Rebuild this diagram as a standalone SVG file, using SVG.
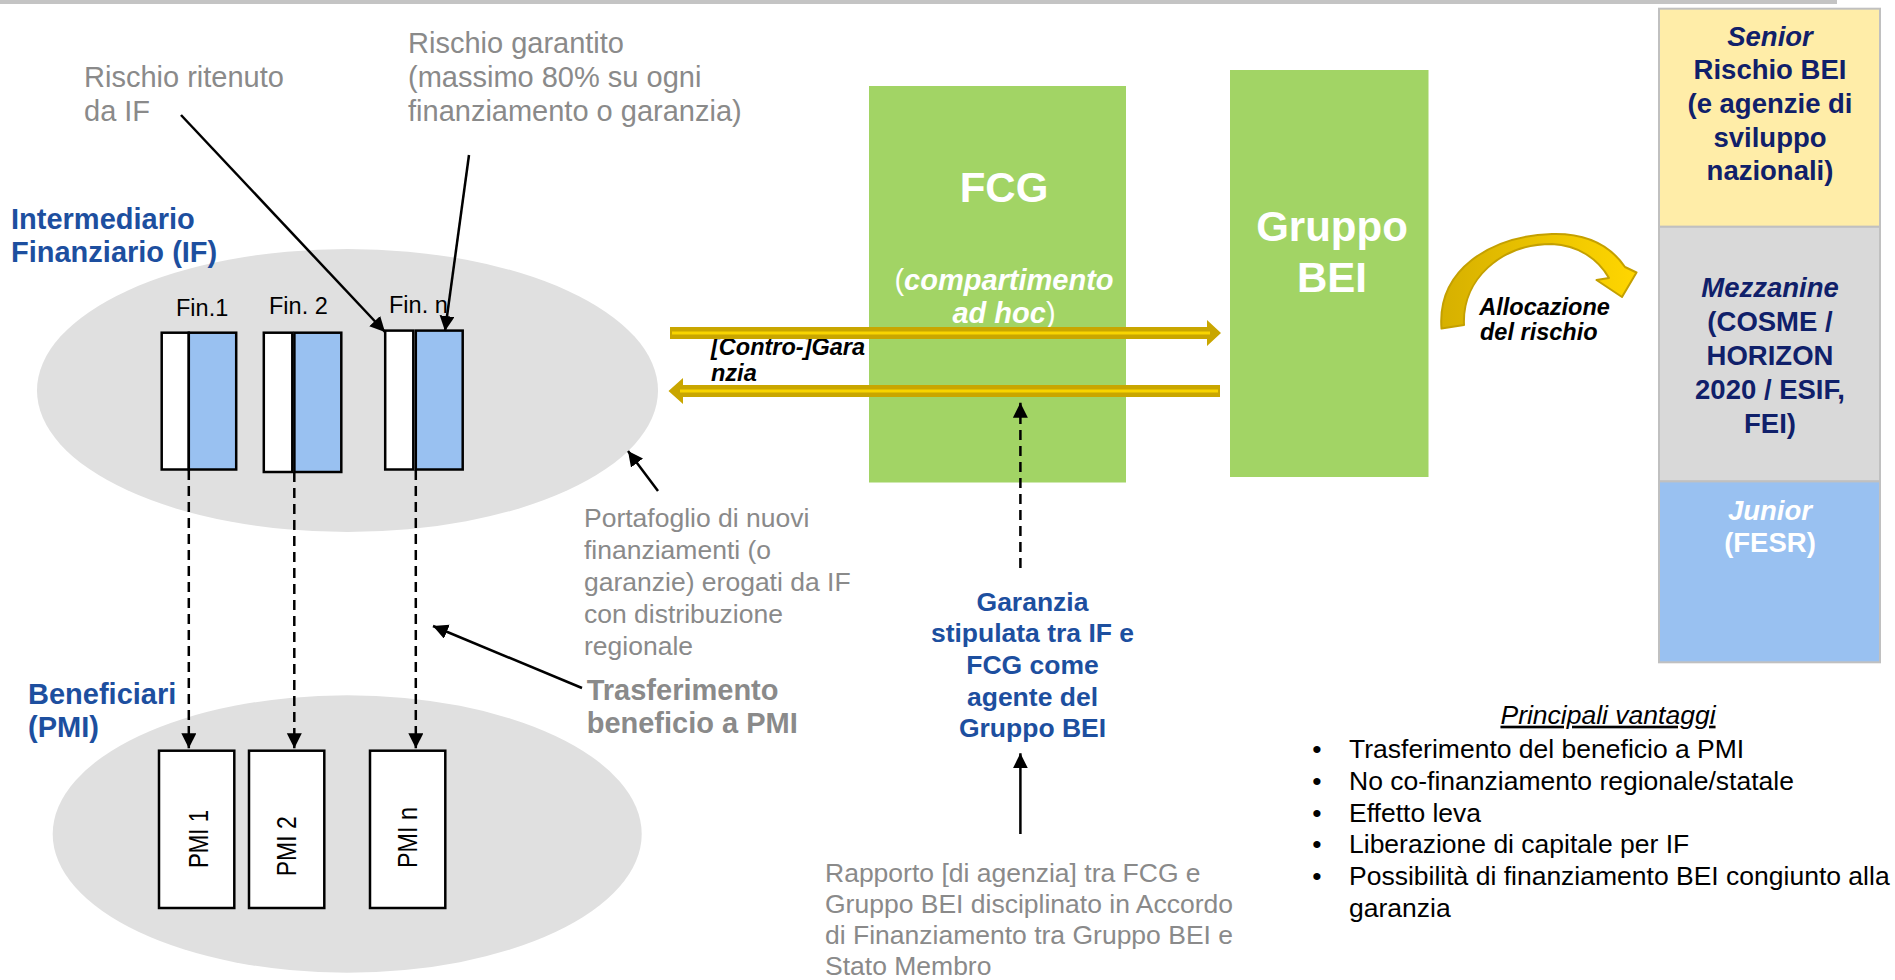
<svg xmlns="http://www.w3.org/2000/svg" width="1895" height="980" viewBox="0 0 1895 980">
<defs>
<style>
text { font-family: "Liberation Sans", Arial, sans-serif; }
.gray29 { font-size: 29px; fill: #8a8a8a; }
.gray26 { font-size: 26.5px; fill: #8a8a8a; }
.grayb { font-size: 29px; fill: #8a8a8a; font-weight: bold; }
.blue29 { font-size: 29px; fill: #1d4f9f; font-weight: bold; }
.blue26 { font-size: 26.5px; fill: #1d4f9f; font-weight: bold; text-anchor: middle; }
.fin { font-size: 23.5px; fill: #000; }
.pmi { font-size: 27px; fill: #000; font-family: "Liberation Sans Narrow", "Liberation Sans", Arial, sans-serif; text-anchor: middle; }
.wbig { font-size: 42px; fill: #fff; font-weight: bold; text-anchor: middle; }
.w29 { font-size: 29px; fill: #fff; text-anchor: middle; }
.bi { font-weight: bold; font-style: italic; }
.tr { font-size: 27.5px; font-weight: bold; fill: #10206a; text-anchor: middle; }
.trw { fill: #ffffff; }
.blk23 { font-size: 23.5px; font-weight: bold; font-style: italic; fill: #000; }
.body { font-size: 26.5px; fill: #000; }
.bul { font-size: 26.5px; fill: #000; text-anchor: middle; }
.ell { fill: #e0e0e0; }
.box { stroke: #000; stroke-width: 2.5; }
.wfill { fill: #fff; }
.bfill { fill: #99c1f1; }
.green { fill: #a2d465; }
.conn { stroke: #000; stroke-width: 2.5; fill: none; }
.dash { stroke-dasharray: 10 6; }
.gold { fill: #c9a600; }
.goldline { stroke: #f8d400; stroke-width: 3; fill: none; }
.tranche { stroke: #c0c0c0; stroke-width: 2; }
</style>
<marker id="ah" markerUnits="userSpaceOnUse" markerWidth="16" markerHeight="16" refX="15" refY="7.5" orient="auto">
<path d="M0,0 L15,7.5 L0,15 Z" fill="#000"/>
</marker>
<linearGradient id="curveGrad" gradientUnits="userSpaceOnUse" x1="1440" y1="0" x2="1636" y2="0">
<stop offset="0" stop-color="#d6b000"/>
<stop offset="1" stop-color="#ffd600"/>
</linearGradient>
</defs>

<rect x="0" y="0" width="1837" height="4" fill="#c4c4c4"/>

<g id="if-ellipse">
<ellipse class="ell" cx="347.5" cy="390.5" rx="310.5" ry="141.5"/>
</g>
<g id="pmi-ellipse">
<ellipse class="ell" cx="347.2" cy="834" rx="294.5" ry="138.7"/>
</g>

<g id="label-ritenuto">
<text class="gray29" x="84" y="87"><tspan x="84">Rischio ritenuto</tspan><tspan x="84" y="121">da IF</tspan></text>
</g>
<g id="label-garantito">
<text class="gray29" x="408" y="53"><tspan x="408">Rischio garantito</tspan><tspan x="408" y="87">(massimo 80% su ogni</tspan><tspan x="408" y="121">finanziamento o garanzia)</tspan></text>
</g>
<g id="label-if">
<text class="blue29" x="11" y="228.5"><tspan x="11">Intermediario</tspan><tspan x="11" y="262">Finanziario (IF)</tspan></text>
</g>

<g id="fin1">
<text class="fin" x="176" y="316">Fin.1</text>
<rect class="box wfill" x="161.7" y="332.7" width="27.1" height="136.8"/>
<rect class="box bfill" x="188.8" y="332.7" width="47.4" height="136.8"/>
</g>
<g id="fin2">
<text class="fin" x="269" y="313.5">Fin. 2</text>
<rect class="box wfill" x="263.8" y="332.7" width="28.5" height="139.3"/>
<rect class="box bfill" x="294.4" y="332.7" width="46.9" height="139.3"/>
</g>
<g id="finn">
<text class="fin" x="389" y="313">Fin. n</text>
<rect class="box wfill" x="385.2" y="330.6" width="28.1" height="138.9"/>
<rect class="box bfill" x="415.8" y="330.6" width="46.9" height="138.9"/>
</g>

<g id="label-beneficiari">
<text class="blue29" x="28" y="704.3"><tspan x="28">Beneficiari</tspan><tspan x="28" y="737">(PMI)</tspan></text>
</g>

<g id="pmi1">
<rect class="box wfill" x="159" y="750.7" width="75.3" height="157.3"/>
<text class="pmi" transform="translate(198.7,839) rotate(-90)" x="0" y="9.6" textLength="58" lengthAdjust="spacingAndGlyphs">PMI 1</text>
</g>
<g id="pmi2">
<rect class="box wfill" x="249" y="750.7" width="75.3" height="157.3"/>
<text class="pmi" transform="translate(286.7,846.3) rotate(-90)" x="0" y="9.6" textLength="60" lengthAdjust="spacingAndGlyphs">PMI 2</text>
</g>
<g id="pmin">
<rect class="box wfill" x="370" y="750.7" width="75.3" height="157.3"/>
<text class="pmi" transform="translate(407.2,837.5) rotate(-90)" x="0" y="9.6" textLength="61" lengthAdjust="spacingAndGlyphs">PMI n</text>
</g>

<g id="label-portafoglio">
<text class="gray26" x="584" y="527.3"><tspan x="584">Portafoglio di nuovi</tspan><tspan x="584" y="559.3">finanziamenti (o</tspan><tspan x="584" y="591.3">garanzie) erogati da IF</tspan><tspan x="584" y="623.3">con distribuzione</tspan><tspan x="584" y="655.3">regionale</tspan></text>
</g>
<g id="label-trasferimento">
<text class="grayb" x="586.7" y="700"><tspan x="586.7">Trasferimento</tspan><tspan x="586.7" y="733.3">beneficio a PMI</tspan></text>
</g>

<g id="fcg">
<rect class="green" x="869" y="86" width="257" height="396.5"/>
<text class="wbig" x="1004" y="201.7">FCG</text>
<text class="w29" x="1004" y="290">(<tspan class="bi">compartimento</tspan></text>
<text class="w29" x="1004" y="323"><tspan class="bi">ad hoc</tspan>)</text>
</g>

<g id="gruppo-bei">
<rect class="green" x="1230" y="70" width="198.5" height="407"/>
<text class="wbig" x="1332" y="241">Gruppo</text>
<text class="wbig" x="1332" y="292">BEI</text>
</g>

<g id="label-controgaranzia">
<text class="blk23" x="711" y="355"><tspan x="711">[Contro-]Gara</tspan><tspan x="711" y="381">nzia</tspan></text>
</g>

<g id="label-garanzia">
<text class="blue26" x="1032.5" y="610.5"><tspan x="1032.5">Garanzia</tspan><tspan x="1032.5" y="642.2">stipulata tra IF e</tspan><tspan x="1032.5" y="673.9">FCG come</tspan><tspan x="1032.5" y="705.6">agente del</tspan><tspan x="1032.5" y="737.3">Gruppo BEI</tspan></text>
</g>

<g id="label-rapporto">
<text class="gray26" x="825" y="881.7"><tspan x="825">Rapporto [di agenzia] tra FCG e</tspan><tspan x="825" y="912.8">Gruppo BEI disciplinato in Accordo</tspan><tspan x="825" y="943.9">di Finanziamento tra Gruppo BEI e</tspan><tspan x="825" y="975">Stato Membro</tspan></text>
</g>

<g id="allocazione">
<path d="M1441.5,328.5 C1437,270 1490,236 1552,234 C1590,233 1612,248 1625,267 L1636.5,272.5 L1622,297 L1596.5,280 L1609,278 C1598,259 1578,245 1552,244 C1500,244 1462,280 1464,325 Z" fill="url(#curveGrad)" stroke="#c4a000" stroke-width="2" stroke-linejoin="round"/>
<text class="blk23" x="1479.3" y="315"><tspan x="1479.3">Allocazione</tspan><tspan x="1480" y="339.5">del rischio</tspan></text>
</g>

<g id="tranche-senior">
<rect class="tranche" x="1659" y="8.7" width="221" height="218.1" fill="#ffeda8"/>
<text class="tr" x="1770" y="45.5"><tspan class="bi" x="1770">Senior</tspan><tspan x="1770" y="79">Rischio BEI</tspan><tspan x="1770" y="113">(e agenzie di</tspan><tspan x="1770" y="146.5">sviluppo</tspan><tspan x="1770" y="180">nazionali)</tspan></text>
</g>
<g id="tranche-mezzanine">
<rect class="tranche" x="1659" y="226.8" width="221" height="254.6" fill="#d9d9d9"/>
<text class="tr" x="1770" y="297"><tspan class="bi" x="1770">Mezzanine</tspan><tspan x="1770" y="331">(COSME /</tspan><tspan x="1770" y="365">HORIZON</tspan><tspan x="1770" y="399">2020 / ESIF,</tspan><tspan x="1770" y="433">FEI)</tspan></text>
</g>
<g id="tranche-junior">
<rect class="tranche" x="1659" y="481.4" width="221" height="180.9" fill="#99c1f1"/>
<text class="tr trw" x="1770" y="519.6"><tspan class="bi" x="1770">Junior</tspan><tspan x="1770" y="552">(FESR)</tspan></text>
</g>

<g id="vantaggi">
<text class="body" x="1608" y="723.7" text-anchor="middle" font-style="italic" text-decoration="underline">Principali vantaggi</text>
<text class="bul" x="1317" y="757.7">•</text>
<text class="body" x="1349" y="757.7">Trasferimento del beneficio a PMI</text>
<text class="bul" x="1317" y="789.8">•</text>
<text class="body" x="1349" y="789.8">No co-finanziamento regionale/statale</text>
<text class="bul" x="1317" y="821.5">•</text>
<text class="body" x="1349" y="821.5">Effetto leva</text>
<text class="bul" x="1317" y="853.2">•</text>
<text class="body" x="1349" y="853.2">Liberazione di capitale per IF</text>
<text class="bul" x="1317" y="885.3">•</text>
<text class="body" x="1349" y="885.3"><tspan x="1349">Possibilità di finanziamento BEI congiunto alla</tspan><tspan x="1349" y="916.5">garanzia</tspan></text>
</g>

<g id="connectors">
<path class="gold" d="M670,327 L1207,327 L1207,320 L1221,333 L1207,346 L1207,339 L670,339 Z"/>
<line class="goldline" x1="672" y1="333" x2="1210" y2="333"/>
<path class="gold" d="M1220,385 L683,385 L683,378 L668.5,391 L683,404 L683,397 L1220,397 Z"/>
<line class="goldline" x1="680" y1="391" x2="1218" y2="391"/>

<line class="conn" x1="181" y1="115" x2="385" y2="332" marker-end="url(#ah)"/>
<line class="conn" x1="469" y1="155" x2="445" y2="331" marker-end="url(#ah)"/>
<line class="conn" x1="658" y1="491" x2="628" y2="451" marker-end="url(#ah)"/>
<line class="conn" x1="582" y1="688" x2="433" y2="626" marker-end="url(#ah)"/>

<line class="conn dash" x1="188.8" y1="470" x2="188.8" y2="748.3" marker-end="url(#ah)"/>
<line class="conn dash" x1="294.3" y1="472" x2="294.3" y2="748.3" marker-end="url(#ah)"/>
<line class="conn dash" x1="415.8" y1="470" x2="415.8" y2="748.3" marker-end="url(#ah)"/>

<line class="conn dash" x1="1020.4" y1="568" x2="1020.4" y2="402.7" marker-end="url(#ah)"/>
<line class="conn" x1="1020.4" y1="834" x2="1020.4" y2="753.3" marker-end="url(#ah)"/>
</g>
</svg>
